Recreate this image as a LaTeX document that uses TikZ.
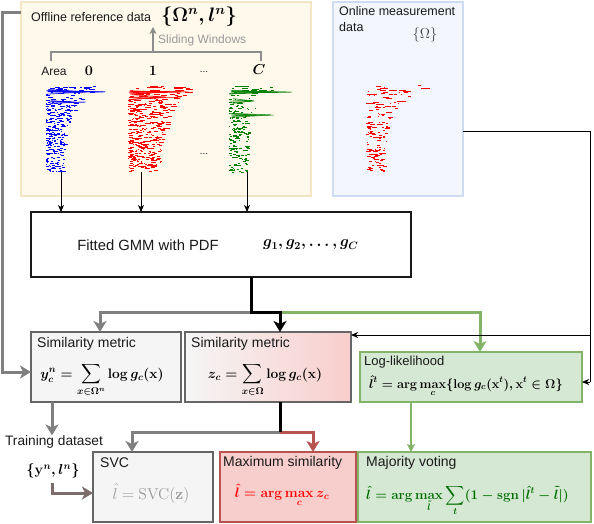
\RequirePackage{fix-cm}
\documentclass[tikz,border=0pt]{standalone}
\usepackage[no-math]{fontspec}
\setmainfont{Liberation Sans}
\usepackage{amsmath,amssymb}
\usetikzlibrary{arrows.meta}
\definecolor{offfill}{RGB}{255,249,236}
\definecolor{offdraw}{RGB}{242,230,196}
\definecolor{onfill}{RGB}{243,246,253}
\definecolor{ondraw}{RGB}{207,219,240}
\definecolor{gfill}{RGB}{245,245,245}
\definecolor{gdraw}{RGB}{102,102,102}
\definecolor{rfill}{RGB}{248,206,204}
\definecolor{rdraw}{RGB}{184,84,80}
\definecolor{grfill}{RGB}{213,232,212}
\definecolor{grdraw}{RGB}{130,179,102}
\definecolor{arrgray}{RGB}{128,128,128}
\definecolor{arrbrown}{RGB}{125,108,108}
\definecolor{txt}{RGB}{26,26,26}
\definecolor{sblue}{RGB}{0,0,255}
\definecolor{sred}{RGB}{255,0,0}
\definecolor{sgreen}{RGB}{0,128,0}
\definecolor{fgreen}{RGB}{0,110,0}
\newcommand{\fsA}{\fontsize{12.5}{16}\selectfont}
\newcommand{\fsB}{\fontsize{14}{16}\selectfont}
\newcommand{\fsC}{\fontsize{14.8}{17}\selectfont}
\newcommand{\fsD}{\fontsize{19.5}{22}\selectfont}
\newcommand{\fsE}{\fontsize{12}{14}\selectfont}
\newcommand{\fsF}{\fontsize{10}{12}\selectfont}
\newcommand{\fsG}{\fontsize{14.4}{17}\selectfont}
\newcommand{\fsH}{\fontsize{15.3}{17}\selectfont}
\newcommand{\fsJ}{\fontsize{13}{15}\selectfont}
\newcommand{\fsK}{\fontsize{12.7}{14}\selectfont}
\newcommand{\fsL}{\fontsize{13.7}{16}\selectfont}
\newcommand{\fsM}{\fontsize{13.4}{16}\selectfont}
\newcommand{\fsN}{\fontsize{13.75}{16}\selectfont}
\newcommand{\fsO}{\fontsize{15.8}{18}\selectfont}
\newcommand{\bmath}[1]{{\boldmath$#1$}}
% #1 x0, #2 y0, #3 colour, #4 count, #5 extra top width, #6 bottom width, #7 decay, #8 max dash length
\newcommand{\scatterdots}[8]{%
  \foreach \k in {1,...,#4}{%
    \pgfmathsetmacro\myt{rnd}%
    \pgfmathsetmacro\mye{exp(-#7*\myt)}%
    \pgfmathsetmacro\myw{#6+#5*\mye}%
    \pgfmathsetmacro\myx{#1+pow(rnd,1.25)*\myw}%
    \pgfmathsetmacro\myl{0.8+rnd*#8*(1+1.5*\mye)}%
    \pgfmathsetmacro\myy{#2+\myt*86}%
    \fill[#3] (\myx,\myy) rectangle ++(\myl,0.9);
  }%
}
% #1 x0, #2 y, #3 length, #4 colour, #5 count
\newcommand{\spike}[5]{%
  \foreach \k in {1,...,#5}{%
    \pgfmathsetmacro\mya{#2+(rnd-0.5)*5}%
    \pgfmathsetmacro\myb{#1+#3*(0.5+0.5*rnd)}%
    \pgfmathsetmacro\myc{#1+rnd*4}%
    \draw[#4, line width=0.5pt] (\myc,\mya) -- (\myb,#2);
  }%
}
\tikzset{
  bx/.style={rectangle, inner sep=0pt, outer sep=0pt, line width=1.1pt},
  graybox/.style={bx, draw=gdraw, fill=gfill},
  redbox/.style={bx, draw=rdraw, fill=rfill},
  greenbox/.style={bx, draw=grdraw, fill=grfill},
  ttl/.style={anchor=west, inner sep=0pt, font=\fsB, text=txt},
  lbl/.style={inner sep=0pt},
  thinarr/.style={line width=1pt, -{Stealth[length=7pt,width=6pt,inset=2pt]}},
  thickarr/.style={line width=3pt, -{Stealth[length=11pt,width=13pt,inset=3pt]}},
  thickline/.style={line width=3pt},
}
\begin{document}
\begin{tikzpicture}[x=1pt,y=-1pt]
\useasboundingbox (0,0) rectangle (594,524);

% ---------- boxes ----------
\node[bx, draw=offdraw, fill=offfill, minimum width=290pt, minimum height=194pt] (off) at (166,99) {};
\node[bx, draw=ondraw, fill=onfill, minimum width=130pt, minimum height=194pt] (on) at (398,99) {};
\node[bx, draw=black!90, line width=1.3pt, fill=white, minimum width=380pt, minimum height=65pt] (gmm) at (221,244.5) {};
\node[graybox, minimum width=150pt, minimum height=70pt] (sim1) at (106,367) {};
\node[bx, draw=gdraw, left color=gfill, right color=rfill, minimum width=166pt, minimum height=70pt] (sim2) at (268,367) {};
\node[greenbox, minimum width=222pt, minimum height=50pt] (ll) at (471,377) {};
\node[graybox, minimum width=120pt, minimum height=70pt] (svc) at (153,487) {};
\node[redbox, minimum width=136pt, minimum height=70pt] (maxs) at (288,487) {};
\node[greenbox, minimum width=233pt, minimum height=70pt] (mv) at (474.5,487) {};

% ---------- offline box content ----------
\node[lbl, anchor=west, font=\fsA, text=txt] (offt) at (31,17) {Offline reference data};
\node[lbl, font=\fsD] (offm) at (199,17) {\bmath{\{\Omega^n, l^n\}}};
\coordinate (brl) at (51,61);
\coordinate (brr) at (261,61);
\coordinate (brc) at (153,52);
\coordinate (brtop) at (153,27);
\draw[arrgray!90, line width=1.3pt] (brl) -- (brl |- brc) -- (brr |- brc) -- (brr);
\draw[arrgray!90, line width=1.3pt, -{Stealth[length=7pt,width=7pt,inset=2pt]}] (brc) -- (brtop);
\node[lbl, anchor=west, font=\fsE, text=black!40] (sw) at (158,40) {Sliding Windows};
\node[lbl, font=\fsE, text=txt] (area) at (54,71) {Area};
\node[lbl, font=\fsG] (a0) at (89,71) {\bmath{0}};
\node[lbl, font=\fsG] (a1) at (153,71) {\bmath{1}};
\node[lbl, font=\fsF, text=txt] (adots) at (204,72) {...};
\node[lbl, font=\fsG] (aC) at (259,70) {\bmath{C}};
\node[lbl, font=\fsF, text=txt] (pdots) at (204,154) {...};

% scatter plots
\pgfmathsetseed{11}
\scatterdots{46}{86}{sblue}{330}{40}{16}{4}{2.5}
\spike{46}{92}{62}{sblue}{9}
\spike{48}{102}{40}{sblue}{6}
\pgfmathsetseed{23}
\scatterdots{128}{86}{sred}{430}{34}{30}{3}{3}
\spike{128}{92}{65}{sred}{9}
\spike{130}{97}{52}{sred}{6}
\pgfmathsetseed{37}
\scatterdots{229}{86}{sgreen}{220}{30}{18}{5}{2.5}
\spike{229}{92}{64}{sgreen}{9}
\spike{229}{101}{42}{sgreen}{5}
\spike{229}{115}{46}{sgreen}{7}
% plot bottoms
\coordinate (p0) at (61,172);
\coordinate (p1) at (141,172);
\coordinate (p2) at (247,172);

% ---------- online box content ----------
\node[lbl, anchor=north west, align=left, font=\fsA, text=txt] (ont) at (339,6) {Online measurement\\data};
\node[lbl, font=\fsG, text=black!75] (onm) at (425,35) {$\{\Omega\}$};
\pgfmathsetseed{53}
\scatterdots{366}{85}{sred}{150}{45}{18}{5}{4}

% ---------- GMM ----------
\node[lbl, font=\fsC, text=txt] (gmmt) at (148,245) {Fitted GMM with PDF};
\node[lbl, anchor=west, font=\fsH] (gmmm) at (263,245) {\bmath{g_1, g_2, \ldots, g_C}};

% ---------- titles and formulas ----------
\node[ttl] (s1t) at (37,344) {Similarity metric};
\node[lbl, anchor=base, font=\fsN] (s1m) at (102,378) {\bmath{\displaystyle y_c^n=\sum_{x\in\Omega^n}\log g_c(\mathbf{x})}};
\node[ttl] (s2t) at (191,344) {Similarity metric};
\node[lbl, anchor=base, font=\fsN] (s2m) at (265,378) {\bmath{\displaystyle z_c=\sum_{x\in\Omega}\log g_c(\mathbf{x})}};
\node[ttl, font=\fsJ] (llt) at (364,362) {Log-likelihood};
\node[lbl, anchor=base, font=\fsK] (llm) at (466,388) {\bmath{\displaystyle \hat{l}^t=\arg\max_c\{\log g_c(\mathbf{x}^t),\mathbf{x}^t\in\Omega\}}};
\node[ttl] (svct) at (100,463) {SVC};
\node[lbl, anchor=base, font=\fsO, text=black!40] (svcm) at (151,499) {$\hat{l}=\mathrm{SVC}(\mathbf{z})$};
\node[ttl] (maxt) at (223,463) {Maximum similarity};
\node[lbl, anchor=base, font=\fsN, text=sred] (maxm) at (282,497) {\bmath{\displaystyle \hat{l}=\arg\max_c z_c}};
\node[ttl] (mvt) at (366,463) {Majority voting};
\node[lbl, anchor=base, font=\fsM, text=fgreen] (mvm) at (467.5,499) {\bmath{\displaystyle \hat{l}=\arg\max_{\tilde{l}}\sum_t(1-\operatorname{sgn}|\hat{l}^t-\tilde{l}|)}};
\node[lbl, font=\fsL, text=txt] (td) at (54,442) {Training dataset};
\node[lbl, font=\fsG] (tdm) at (53,471) {\bmath{\{\mathbf{y}^n, l^n\}}};

% ---------- connectors ----------
\draw[thinarr] (p0) -- (p0 |- gmm.north);
\draw[thinarr] (p1) -- (p1 |- gmm.north);
\draw[thinarr] (p2) -- (p2 |- gmm.north);

% gray loop from offline box to sim1
\coordinate (lt) at (2,13);
\coordinate (lb) at (2,372);
\draw[thickarr, arrgray] (off.west |- lt) -- (lt) -- (lb) -- (sim1.west |- lb);

% from GMM
\coordinate (g0) at (251,277);
\coordinate (gj) at (251,312);
\coordinate (gk) at (280,312);
\coordinate (gl) at (100,312);
\coordinate (gr) at (480,312);
\draw[thickarr, arrgray] (gj) -- (gl) -- (gl |- sim1.north);
\draw[thickarr, grdraw] (gk) -- (gr) -- (gr |- ll.north);
\draw[thickarr, black] (g0) -- (gj) -- (gk) -- (gk |- sim2.north);

% online to sim2 and ll
\coordinate (o1) at (590,132);
\coordinate (o2) at (590,335);
\coordinate (o3) at (590,382);
\draw[line width=1pt] (on.east |- o1) -- (o1) -- (o3);
\draw[thinarr] (o2) -- (sim2.east |- o2);
\draw[thinarr] (o3) -- (ll.east |- o3);

% from sim2
\coordinate (s0) at (280,402);
\coordinate (sj) at (280,432);
\coordinate (sl) at (132,432);
\coordinate (sr) at (313,432);
\draw[thickarr, arrgray] (sj) -- (sl) -- (sl |- svc.north);
\draw[thickarr, rdraw] (sj) -- (sr) -- (sr |- maxs.north);
\draw[thickline, black] (s0) -- (sj);

% sim1 to training dataset
\coordinate (t0) at (52,402);
\draw[thickarr, arrgray] (t0) -- (t0 |- td.north);

% training data to SVC
\coordinate (u0) at (52,483);
\coordinate (u1) at (52,493);
\draw[thickarr, arrbrown] (u0) -- (u1) -- (svc.west |- u1);

% ll to mv
\coordinate (v0) at (411,402);
\draw[line width=1.2pt, grdraw, -{Stealth[length=8pt,width=8pt,inset=2pt]}] (v0) -- (v0 |- mv.north);

\end{tikzpicture}
\end{document}
